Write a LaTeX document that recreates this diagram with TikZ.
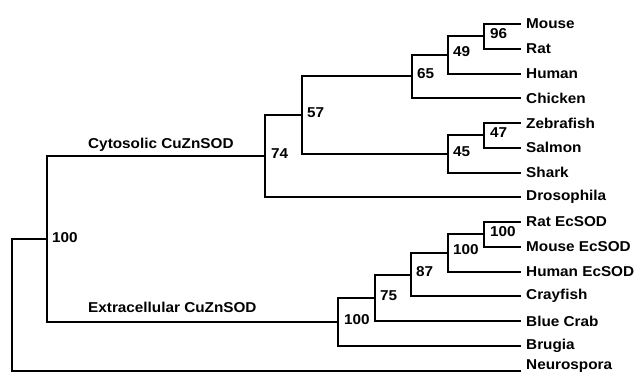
\documentclass[tikz,border=0pt]{standalone}
\usepackage{fontspec}
\setmainfont{Liberation Sans}[FakeStretch=1.07]
\begin{document}
\begin{tikzpicture}[x=1pt,y=-1pt,
  branch/.style={line width=2pt,line cap=rect,line join=miter},
  taxon/.style={font=\fontsize{14.3}{16}\selectfont\bfseries,anchor=west,inner sep=0pt},
  boot/.style={font=\fontsize{14.3}{16}\selectfont\bfseries,anchor=west,inner sep=0pt},
  clade/.style={font=\fontsize{14.3}{16}\selectfont\bfseries,anchor=west,inner sep=0pt}]
\useasboundingbox (0,0) rectangle (637,373);

% leaf tips
\def\tipx{520}
\foreach \nm/\i in {Mouse/0,Rat/1,Human/2,Chicken/3,Zebrafish/4,Salmon/5,Shark/6,Drosophila/7,
  RatEc/8,MouseEc/9,HumanEc/10,Crayfish/11,BlueCrab/12,Brugia/13,Neurospora/14}
  \coordinate (t\nm) at (\tipx,{24+24.75*\i});

% leaf labels
\node[taxon] (lMouse) at ([xshift=6pt]tMouse) {Mouse};
\node[taxon] (lRat) at ([xshift=6pt]tRat) {Rat};
\node[taxon] (lHuman) at ([xshift=6pt]tHuman) {Human};
\node[taxon] (lChicken) at ([xshift=6pt]tChicken) {Chicken};
\node[taxon] (lZebrafish) at ([xshift=6pt]tZebrafish) {Zebrafish};
\node[taxon] (lSalmon) at ([xshift=6pt]tSalmon) {Salmon};
\node[taxon] (lShark) at ([xshift=6pt]tShark) {Shark};
\node[taxon] (lDrosophila) at ([xshift=6pt]tDrosophila) {Drosophila};
\node[taxon] (lRatEc) at ([xshift=6pt]tRatEc) {Rat EcSOD};
\node[taxon] (lMouseEc) at ([xshift=6pt]tMouseEc) {Mouse EcSOD};
\node[taxon] (lHumanEc) at ([xshift=6pt]tHumanEc) {Human EcSOD};
\node[taxon] (lCrayfish) at ([xshift=6pt]tCrayfish) {Crayfish};
\node[taxon] (lBlueCrab) at ([xshift=6pt]tBlueCrab) {Blue Crab};
\node[taxon] (lBrugia) at ([xshift=6pt]tBrugia) {Brugia};
\node[taxon,anchor=south west] (lNeurospora) at (526,373) {Neurospora};

% internal branch points (x of the vertical bar, mid height of its children)
\coordinate (n96) at (484,36.4);
\coordinate (n49) at (448,54.7);
\coordinate (n65) at (412,76.4);
\coordinate (n47) at (484,135.4);
\coordinate (n45) at (448,154.2);
\coordinate (n57) at (302,115.3);
\coordinate (n74) at (265,156.1);
\coordinate (e100a) at (484,234.4);
\coordinate (e100b) at (448,252.7);
\coordinate (n87) at (411,274.6);
\coordinate (n75) at (375,298.3);
\coordinate (e100c) at (338,322.1);
\coordinate (r100) at (47,239.1);
\coordinate (root) at (12,239.1);

% branches
\draw[branch] (tMouse) -| (n96) |- (tRat);
\draw[branch] (n96) -| (n49) |- (tHuman);
\draw[branch] (n49) -| (n65) |- (tChicken);
\draw[branch] (tZebrafish) -| (n47) |- (tSalmon);
\draw[branch] (n47) -| (n45) |- (tShark);
\draw[branch] (n65) -| (n57) |- (n45);
\draw[branch] (n57) -| (n74) |- (tDrosophila);
\draw[branch] (tRatEc) -| (e100a) |- (tMouseEc);
\draw[branch] (e100a) -| (e100b) |- (tHumanEc);
\draw[branch] (e100b) -| (n87) |- (tCrayfish);
\draw[branch] (n87) -| (n75) |- (tBlueCrab);
\draw[branch] (n75) -| (e100c) |- (tBrugia);
\draw[branch] (n74) -| (r100) |- (e100c);
\draw[branch] (r100) -- (root) |- (tNeurospora);

% bootstrap values
\node[boot] (b96) at ([xshift=6pt,yshift=3pt]n96) {96};
\node[boot] (b49) at ([xshift=5pt,yshift=3pt]n49) {49};
\node[boot] (b65) at ([xshift=5pt,yshift=3pt]n65) {65};
\node[boot] (b47) at ([xshift=6pt,yshift=3pt]n47) {47};
\node[boot] (b45) at ([xshift=5pt,yshift=3pt]n45) {45};
\node[boot] (b57) at ([xshift=5pt,yshift=3pt]n57) {57};
\node[boot] (b74) at ([xshift=6pt,yshift=3pt]n74) {74};
\node[boot] (be100a) at ([xshift=6pt,yshift=3pt]e100a) {100};
\node[boot] (be100b) at ([xshift=5pt,yshift=3pt]e100b) {100};
\node[boot] (b87) at ([xshift=5pt,yshift=3pt]n87) {87};
\node[boot] (b75) at ([xshift=5pt,yshift=3pt]n75) {75};
\node[boot] (be100c) at ([xshift=6pt,yshift=3pt]e100c) {100};
\node[boot] (br100) at ([xshift=5pt,yshift=2pt]r100) {100};

% clade names
\node[clade] (cyto) at (88,145) {Cytosolic CuZnSOD};
\node[clade] (extra) at (88,307) {Extracellular CuZnSOD};
\end{tikzpicture}
\end{document}
